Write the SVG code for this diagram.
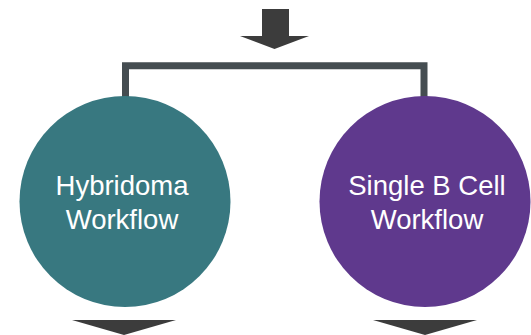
<svg xmlns="http://www.w3.org/2000/svg" width="531" height="335" viewBox="0 0 531 335">
  <style>
    .arrow { fill: #3c3c3c; }
    .bracket { fill: none; stroke: #454d51; stroke-width: 7; }
    .label { font-family: "Liberation Sans", Arial, Helvetica, sans-serif; font-size: 27.5px; fill: #ffffff; text-anchor: middle; }
  </style>
  <rect width="531" height="335" fill="#ffffff"/>
  <g id="connectors">
    <path class="arrow" d="M262,9 H289 V36 H309 L274.5,49 L240,36 H262 Z"/>
    <path class="bracket" d="M125.5,100 V65.8 H424 V100"/>
    <path class="arrow" d="M72,320 H176 L124,335 Z"/>
    <path class="arrow" d="M373,320 H477 L425,335 Z"/>
  </g>
  <g id="hybridoma">
    <circle cx="125" cy="201.5" r="105.5" fill="#387880"/>
    <text class="label" x="122" y="195">Hybridoma</text>
    <text class="label" x="122" y="228.5">Workflow</text>
  </g>
  <g id="single-b-cell">
    <circle cx="425" cy="201.5" r="105.5" fill="#5f398d"/>
    <text class="label" x="427" y="195">Single B Cell</text>
    <text class="label" x="427" y="228.5">Workflow</text>
  </g>
</svg>
